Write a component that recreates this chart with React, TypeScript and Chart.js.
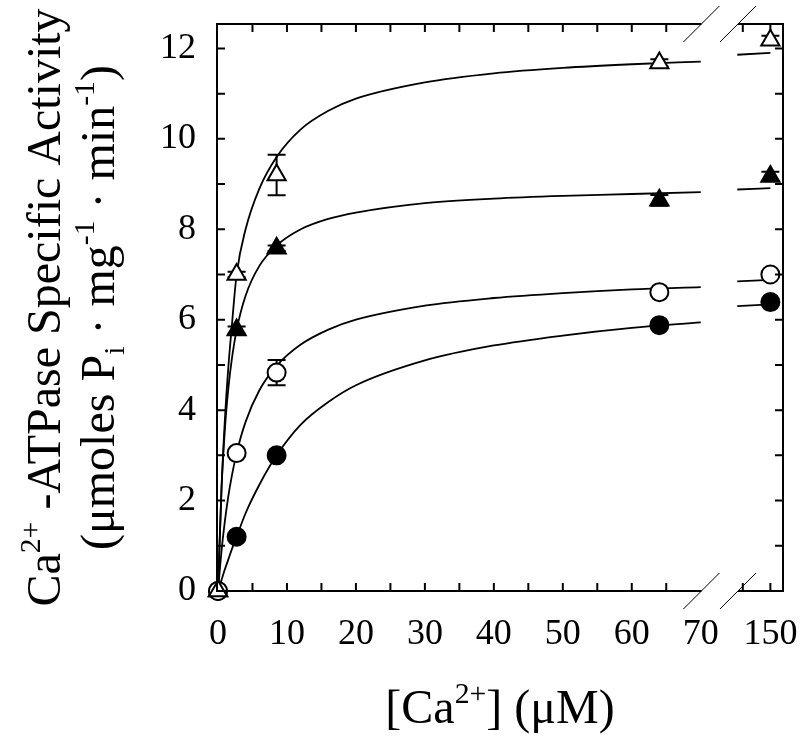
import React, { useEffect, useRef } from "react";
import { Chart, registerables } from "chart.js";

Chart.register(...registerables);

// ---- data (real [Ca2+] in µM) ----
const concentrations = [0, 2.7, 8.5, 64, 150];
const openTriangle = [0, 7.0, 9.2, 11.68, 12.18];
const openTriangleErr = [0, 0.06, 0.45, 0.08, 0.1];
const filledTriangle = [0, 5.77, 7.58, 8.64, 9.17];
const filledTriangleErr = [0, 0.08, 0.06, 0.12, 0.1];
const openCircle = [0, 3.05, 4.83, 6.61, 7.0];
const openCircleErr = [0, 0.04, 0.28, 0.04, 0.05];
const filledCircle = [0, 1.2, 3.0, 5.88, 6.39];
const filledCircleErr = [0, 0.04, 0.05, 0.05, 0.05];

// fitted curves
const curveX = [0, 0.5, 1, 1.5, 2, 2.7, 4, 6, 8.5, 12, 16, 20, 30, 40, 50, 60, 70];
const curveX2 = [145.2, 150];
const openTriangleCurve = [0, 2.24, 3.8, 4.95, 5.85, 7.0, 8.0, 8.9, 9.6, 10.21, 10.62, 10.89, 11.25, 11.45, 11.57, 11.65, 11.71];
const openTriangleCurve2 = [11.86, 11.9];
const filledTriangleCurve = [0, 2.23, 3.58, 4.48, 5.12, 5.77, 6.53, 7.19, 7.64, 8.0, 8.23, 8.37, 8.58, 8.68, 8.74, 8.78, 8.82];
const filledTriangleCurve2 = [8.88, 8.91];
const openCircleCurve = [0, 0.87, 1.55, 2.1, 2.54, 3.05, 3.74, 4.44, 4.98, 5.45, 5.78, 6.0, 6.31, 6.48, 6.59, 6.67, 6.72];
const openCircleCurve2 = [6.85, 6.88];
const filledCircleCurve = [0, 0.24, 0.48, 0.7, 0.92, 1.2, 1.72, 2.35, 3.0, 3.68, 4.18, 4.55, 5.1, 5.43, 5.65, 5.82, 5.94];
const filledCircleCurve2 = [6.3, 6.34];

// axis ticks
const xTickValues = [0, 10, 20, 30, 40, 50, 60, 70, 150];
const xTickLabels = ["0", "10", "20", "30", "40", "50", "60", "70", "150"];
const xMinorTicks = [5, 10, 15, 20, 25, 30, 35, 40, 45, 50, 55, 60, 65, 146, 150];
const yTickValues = [0, 2, 4, 6, 8, 10, 12];
const yMinorTicks = [1, 2, 3, 4, 5, 6, 7, 8, 9, 10, 11, 12];
const breakLow = 70.1;
const breakHigh = 75.4;

const BREAK_OFFSET = 69.9;
const toDisplay = (v: number) => (v > 100 ? v - BREAK_OFFSET : v);

const FONT = '"Liberation Serif", "Times New Roman", serif';

type Seg = { t: string; sup?: boolean; sub?: boolean };

function drawRich(ctx: CanvasRenderingContext2D, segs: Seg[], x: number, y: number, size: number) {
  const small = size * 0.62;
  let total = 0;
  const widths: number[] = [];
  for (const s of segs) {
    ctx.font = `${s.sup || s.sub ? small : size}px ${FONT}`;
    const w = ctx.measureText(s.t).width;
    widths.push(w);
    total += w;
  }
  let cx = x - total / 2;
  ctx.textAlign = "left";
  ctx.textBaseline = "alphabetic";
  segs.forEach((s, i) => {
    ctx.font = `${s.sup || s.sub ? small : size}px ${FONT}`;
    const dy = s.sup ? -size * 0.42 : s.sub ? size * 0.2 : 0;
    ctx.fillText(s.t, cx, y + dy);
    cx += widths[i];
  });
}

const yTitle1: Seg[] = [{ t: "Ca" }, { t: "2+", sup: true }, { t: " -ATPase Specific Activity" }];
const yTitle2: Seg[] = [
  { t: "(μmoles P" },
  { t: "i", sub: true },
  { t: " · mg" },
  { t: "-1", sup: true },
  { t: " · min" },
  { t: "-1", sup: true },
  { t: ")" },
];
const xTitle: Seg[] = [{ t: "[Ca" }, { t: "2+", sup: true }, { t: "] (μM)" }];

const errorSets = [
  { values: openTriangle, errs: openTriangleErr },
  { values: filledTriangle, errs: filledTriangleErr },
  { values: openCircle, errs: openCircleErr },
  { values: filledCircle, errs: filledCircleErr },
];

const errorBarPlugin = {
  id: "errorBars",
  beforeDatasetsDraw(chart: any) {
    const { ctx, scales } = chart;
    const xs = scales.x;
    const ys = scales.y;
    ctx.save();
    ctx.strokeStyle = "#000";
    ctx.lineWidth = 2;
    for (const set of errorSets) {
      set.values.forEach((v, i) => {
        const e = set.errs[i];
        if (!e) return;
        const px = xs.getPixelForValue(toDisplay(concentrations[i]));
        const top = ys.getPixelForValue(v + e);
        const bot = ys.getPixelForValue(v - e);
        ctx.beginPath();
        ctx.moveTo(px, top);
        ctx.lineTo(px, bot);
        ctx.moveTo(px - 9, top);
        ctx.lineTo(px + 9, top);
        ctx.moveTo(px - 9, bot);
        ctx.lineTo(px + 9, bot);
        ctx.stroke();
      });
    }
    ctx.restore();
  },
};

const framePlugin = {
  id: "frame",
  afterDraw(chart: any) {
    const { ctx, chartArea: a, scales } = chart;
    const xs = scales.x;
    const ys = scales.y;
    const b1 = xs.getPixelForValue(breakLow);
    const b2 = xs.getPixelForValue(breakHigh);
    ctx.save();
    ctx.strokeStyle = "#000";
    ctx.lineCap = "butt";
    ctx.lineWidth = 2;
    ctx.beginPath();
    ctx.moveTo(a.left, a.top - 1);
    ctx.lineTo(a.left, a.bottom + 1);
    ctx.moveTo(a.right, a.top - 1);
    ctx.lineTo(a.right, a.bottom + 1);
    ctx.moveTo(a.left, a.bottom);
    ctx.lineTo(b1, a.bottom);
    ctx.moveTo(b2, a.bottom);
    ctx.lineTo(a.right, a.bottom);
    ctx.moveTo(a.left, a.top);
    ctx.lineTo(b1, a.top);
    ctx.moveTo(b2, a.top);
    ctx.lineTo(a.right, a.top);
    // inward ticks
    for (const v of yMinorTicks) {
      const py = ys.getPixelForValue(v);
      ctx.moveTo(a.left, py);
      ctx.lineTo(a.left + 8, py);
      ctx.moveTo(a.right, py);
      ctx.lineTo(a.right - 8, py);
    }
    for (const v of xMinorTicks) {
      const px = xs.getPixelForValue(toDisplay(v));
      ctx.moveTo(px, a.bottom);
      ctx.lineTo(px, a.bottom - 8);
      ctx.moveTo(px, a.top);
      ctx.lineTo(px, a.top + 8);
    }
    ctx.stroke();
    // break marks
    ctx.lineWidth = 1;
    ctx.beginPath();
    for (const bx of [b1, b2]) {
      for (const by of [a.top, a.bottom]) {
        ctx.moveTo(bx - 18, by + 18);
        ctx.lineTo(bx + 18, by - 18);
      }
    }
    ctx.stroke();
    // titles
    ctx.fillStyle = "#000";
    drawRich(ctx, xTitle, (a.left + a.right) / 2, 723, 48);
    const cy = (a.top + a.bottom) / 2;
    ctx.save();
    ctx.translate(60, cy);
    ctx.rotate(-Math.PI / 2);
    drawRich(ctx, yTitle1, 0, 0, 48);
    ctx.restore();
    ctx.save();
    ctx.translate(114, cy);
    ctx.rotate(-Math.PI / 2);
    drawRich(ctx, yTitle2, 0, 0, 48);
    ctx.restore();
    ctx.restore();
  },
};

function curveData(xs1: number[], ys1: number[], xs2: number[], ys2: number[]) {
  const pts: { x: number; y: number | null }[] = xs1.map((x, i) => ({ x: toDisplay(x), y: ys1[i] }));
  pts.push({ x: (breakLow + breakHigh) / 2, y: null });
  xs2.forEach((x, i) => pts.push({ x: toDisplay(x), y: ys2[i] }));
  return pts;
}

function markerData(vals: number[]) {
  return concentrations.map((c, i) => ({ x: toDisplay(c), y: vals[i] }));
}

export default function App() {
  const ref = useRef<HTMLCanvasElement | null>(null);
  useEffect(() => {
    if (!ref.current) return;
    const curve = (d: any) => ({
      type: "line" as const,
      data: d,
      borderColor: "#000",
      borderWidth: 1.8,
      pointRadius: 0,
      fill: false,
      spanGaps: false,
      cubicInterpolationMode: "monotone" as const,
      order: 5,
    });
    const marker = (d: any, style: string, filled: boolean, r: number) => ({
      type: "scatter" as const,
      data: d,
      showLine: false,
      pointStyle: style,
      pointRadius: r,
      pointBackgroundColor: filled ? "#000" : "#fff",
      pointBorderColor: "#000",
      pointBorderWidth: 2,
      clip: false,
      order: 1,
    });
    const chart = new Chart(ref.current, {
      type: "scatter",
      data: {
        datasets: [
          curve(curveData(curveX, openTriangleCurve, curveX2, openTriangleCurve2)),
          curve(curveData(curveX, filledTriangleCurve, curveX2, filledTriangleCurve2)),
          curve(curveData(curveX, openCircleCurve, curveX2, openCircleCurve2)),
          curve(curveData(curveX, filledCircleCurve, curveX2, filledCircleCurve2)),
          marker(markerData(openTriangle), "triangle", false, 10.5),
          marker(markerData(openCircle), "circle", false, 9),
          marker(markerData(filledTriangle), "triangle", true, 10.5),
          marker(markerData(filledCircle), "circle", true, 9),
        ] as any,
      },
      options: {
        animation: false,
        responsive: false,
        layout: { padding: { left: 0, right: 17, top: 24, bottom: 0 } },
        plugins: { legend: { display: false }, tooltip: { enabled: false }, title: { display: false } },
        scales: {
          x: {
            type: "linear",
            min: -0.145,
            max: 81.93,
            grid: { display: false, drawTicks: false },
            border: { display: false },
            ticks: {
              autoSkip: false,
              maxRotation: 0,
              padding: 22,
              color: "#000",
              font: { family: FONT, size: 36 },
              callback: (_v: any, i: number) => xTickLabels[i],
            },
            afterBuildTicks: (s: any) => {
              s.ticks = xTickValues.map((v) => ({ value: toDisplay(v) }));
            },
            afterFit: (s: any) => {
              s.height = 149;
              s.paddingLeft = 0;
              s.paddingRight = 0;
            },
          },
          y: {
            type: "linear",
            min: 0,
            max: 12.54,
            grid: { display: false, drawTicks: false },
            border: { display: false },
            ticks: {
              padding: 21,
              color: "#000",
              font: { family: FONT, size: 36 },
              callback: (v: any) => String(v),
            },
            afterBuildTicks: (s: any) => {
              s.ticks = yTickValues.map((v) => ({ value: v }));
            },
            afterFit: (s: any) => {
              s.width = 217;
              s.paddingTop = 0;
              s.paddingBottom = 0;
            },
          },
        },
      },
      plugins: [errorBarPlugin, framePlugin],
    } as any);
    return () => chart.destroy();
  }, []);
  return (
    <div style={{ position: "absolute", left: 0, top: 0, width: 800, height: 740, background: "#fff" }}>
      <canvas ref={ref} width={800} height={740} />
    </div>
  );
}
